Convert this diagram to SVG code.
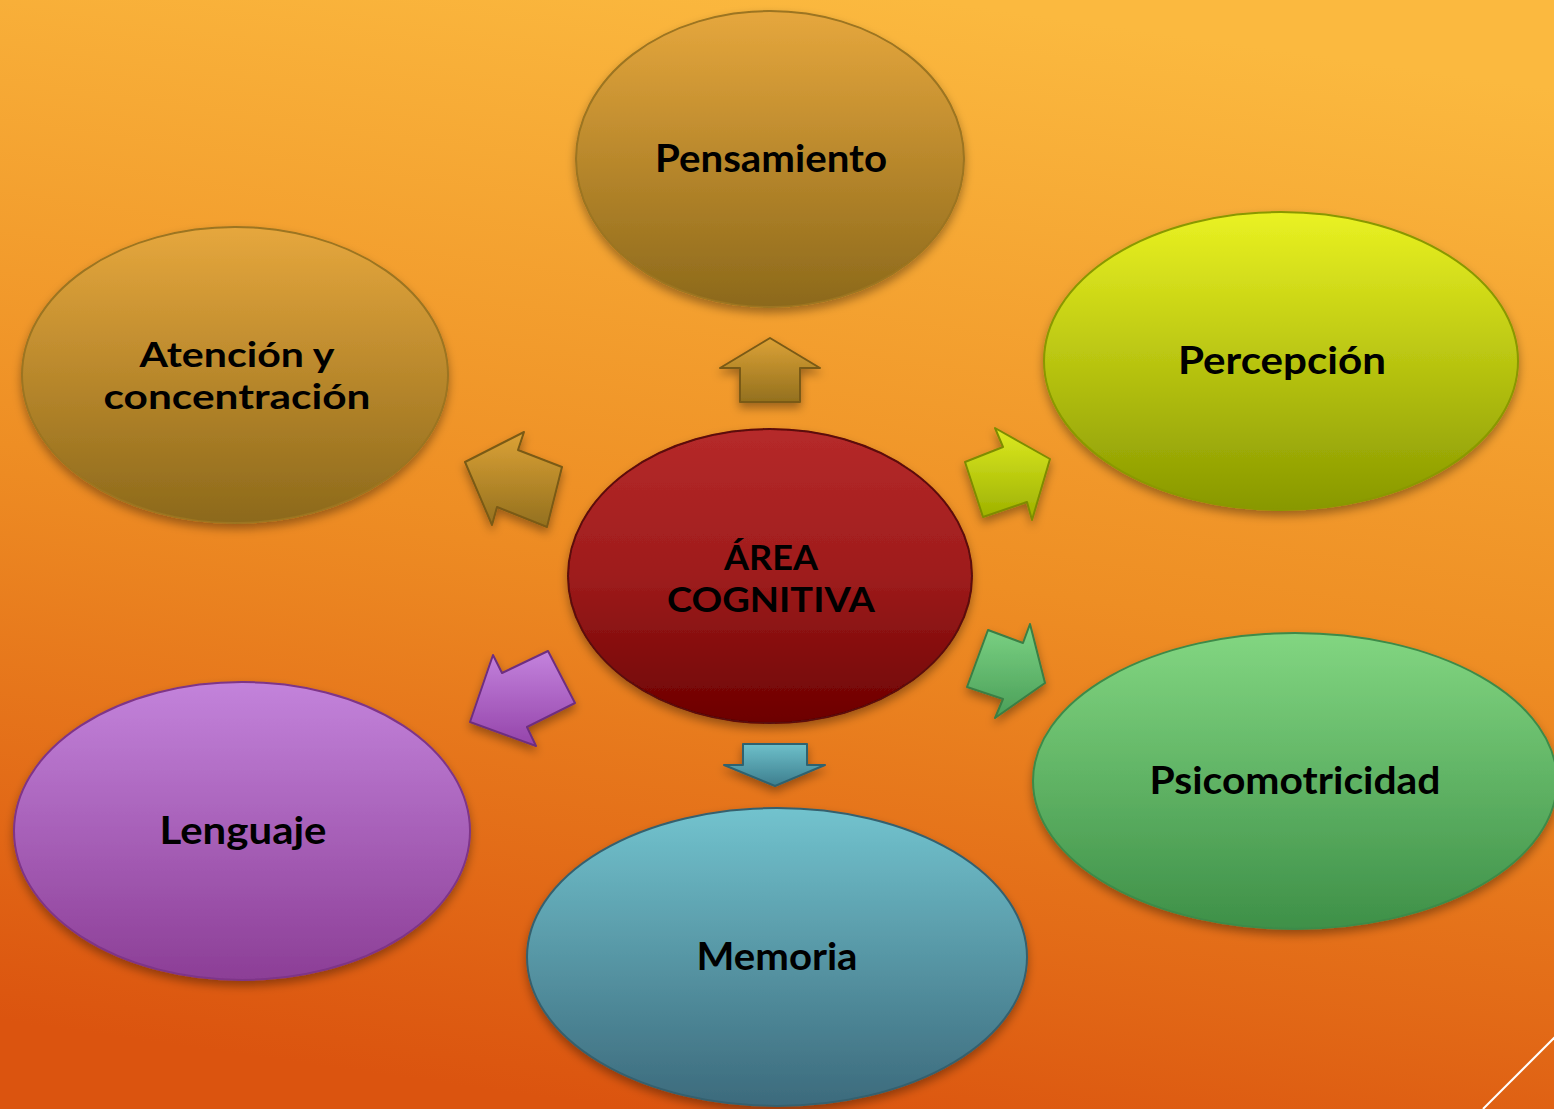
<svg xmlns="http://www.w3.org/2000/svg" width="1554" height="1109" viewBox="0 0 1554 1109">
<defs>
<linearGradient id="bg" x1="0.6" y1="0" x2="0.4" y2="1">
<stop offset="0" stop-color="#FBB93F"/>
<stop offset="0.5" stop-color="#EE8E24"/>
<stop offset="1" stop-color="#DB540F"/>
</linearGradient>
<linearGradient id="gBrown" x1="0" y1="0" x2="0" y2="1">
<stop offset="0" stop-color="#E6A73D"/>
<stop offset="1" stop-color="#8C691B"/>
</linearGradient>
<linearGradient id="gYellow" x1="0" y1="0" x2="0" y2="1">
<stop offset="0" stop-color="#EAF222"/>
<stop offset="1" stop-color="#889800"/>
</linearGradient>
<linearGradient id="gGreen" x1="0" y1="0" x2="0" y2="1">
<stop offset="0" stop-color="#82D681"/>
<stop offset="1" stop-color="#3E9048"/>
</linearGradient>
<linearGradient id="gPurple" x1="0" y1="0" x2="0" y2="1">
<stop offset="0" stop-color="#C383DB"/>
<stop offset="1" stop-color="#8C3E96"/>
</linearGradient>
<linearGradient id="gTeal" x1="0" y1="0" x2="0" y2="1">
<stop offset="0" stop-color="#72C3CE"/>
<stop offset="1" stop-color="#3C6A7C"/>
</linearGradient>
<linearGradient id="gRed" x1="0" y1="0" x2="0" y2="1">
<stop offset="0" stop-color="#B62A2A"/>
<stop offset="0.5" stop-color="#9E1C1C"/>
<stop offset="1" stop-color="#6C0000"/>
</linearGradient>
<linearGradient id="aBrown" x1="0" y1="0" x2="0" y2="1">
<stop offset="0" stop-color="#DCA236"/>
<stop offset="1" stop-color="#93701E"/>
</linearGradient>
<linearGradient id="aYellow" x1="0" y1="0" x2="0" y2="1">
<stop offset="0" stop-color="#DDEA22"/>
<stop offset="1" stop-color="#9CB000"/>
</linearGradient>
<linearGradient id="aGreen" x1="0" y1="0" x2="0" y2="1">
<stop offset="0" stop-color="#7CD384"/>
<stop offset="1" stop-color="#4A9E58"/>
</linearGradient>
<linearGradient id="aPurple" x1="0" y1="0" x2="0" y2="1">
<stop offset="0" stop-color="#C483DD"/>
<stop offset="1" stop-color="#9444AA"/>
</linearGradient>
<linearGradient id="aTeal" x1="0" y1="0" x2="0" y2="1">
<stop offset="0" stop-color="#6EC0CA"/>
<stop offset="1" stop-color="#3D7E8E"/>
</linearGradient>
<filter id="sh" x="-20%" y="-20%" width="140%" height="150%">
<feDropShadow dx="0" dy="5" stdDeviation="5" flood-color="#000" flood-opacity="0.35"/>
</filter>
</defs>
<style>
.node ellipse{filter:url(#sh);stroke-width:2}
.lbl{font-family:"Lato","DejaVu Sans",sans-serif;font-weight:bold;font-size:38px;fill:#000;text-anchor:middle}
.sm{font-size:34px}
.arr{filter:url(#sh);stroke-width:2;stroke-linejoin:round}
</style>
<rect x="0" y="0" width="1554" height="1109" fill="url(#bg)"/>
<line x1="1483" y1="1109" x2="1556" y2="1036" stroke="#FFFFFF" stroke-width="2"/>

<g id="connectors">
<polygon class="arr" fill="url(#aBrown)" stroke="#7A5A14" points="770,338 820,368 800,368 800,402 740,402 740,368 720,368"/>
<polygon class="arr" fill="url(#aBrown)" stroke="#7A5A14" points="465,462 524,432 518,450 562,467 547,527 497,507 492,525"/>
<polygon class="arr" fill="url(#aYellow)" stroke="#7E8C00" points="1050,459 995,428 1003,447 965,462 983,517 1027,502 1032,520"/>
<polygon class="arr" fill="url(#aGreen)" stroke="#3A7E44" points="1045,683 1030,624 1023,643 988,630 967,687 1003,699 995,718"/>
<polygon class="arr" fill="url(#aPurple)" stroke="#6E2E80" points="470,722 493,655 502,673 548,651 575,703 527,727 536,746"/>
<polygon class="arr" fill="url(#aTeal)" stroke="#2E6270" points="775,786 825,765 807,765 807,744 743,744 743,765 724,765"/>
</g>

<g id="pensamiento" class="node">
<ellipse cx="770" cy="159" rx="194" ry="148" fill="url(#gBrown)" stroke="#9C7420"/>
<text class="lbl" x="771" y="172" textLength="232" lengthAdjust="spacingAndGlyphs">Pensamiento</text>
</g>
<g id="atencion" class="node">
<ellipse cx="235" cy="375" rx="213" ry="148" fill="url(#gBrown)" stroke="#9C7420"/>
<text class="lbl sm" x="237" y="367" textLength="195" lengthAdjust="spacingAndGlyphs">Atención y</text>
<text class="lbl sm" x="237" y="409" textLength="267" lengthAdjust="spacingAndGlyphs">concentración</text>
</g>
<g id="percepcion" class="node">
<ellipse cx="1281" cy="361" rx="237" ry="149" fill="url(#gYellow)" stroke="#8A9800"/>
<text class="lbl" x="1282" y="374" textLength="208" lengthAdjust="spacingAndGlyphs">Percepción</text>
</g>
<g id="psicomotricidad" class="node">
<ellipse cx="1295" cy="781" rx="262" ry="148" fill="url(#gGreen)" stroke="#3E8A48"/>
<text class="lbl" x="1295" y="794" textLength="291" lengthAdjust="spacingAndGlyphs">Psicomotricidad</text>
</g>
<g id="lenguaje" class="node">
<ellipse cx="242" cy="831" rx="228" ry="149" fill="url(#gPurple)" stroke="#7E3488"/>
<text class="lbl" x="243" y="844" textLength="167" lengthAdjust="spacingAndGlyphs">Lenguaje</text>
</g>
<g id="memoria" class="node">
<ellipse cx="777" cy="957" rx="250" ry="149" fill="url(#gTeal)" stroke="#36606E"/>
<text class="lbl" x="777" y="970" textLength="161" lengthAdjust="spacingAndGlyphs">Memoria</text>
</g>
<g id="area-cognitiva" class="node">
<ellipse cx="770" cy="576" rx="202" ry="147" fill="url(#gRed)" stroke="#5A0808"/>
<text class="lbl sm" x="771" y="570" textLength="94" lengthAdjust="spacingAndGlyphs">ÁREA</text>
<text class="lbl sm" x="771" y="612" textLength="208" lengthAdjust="spacingAndGlyphs">COGNITIVA</text>
</g>
</svg>
